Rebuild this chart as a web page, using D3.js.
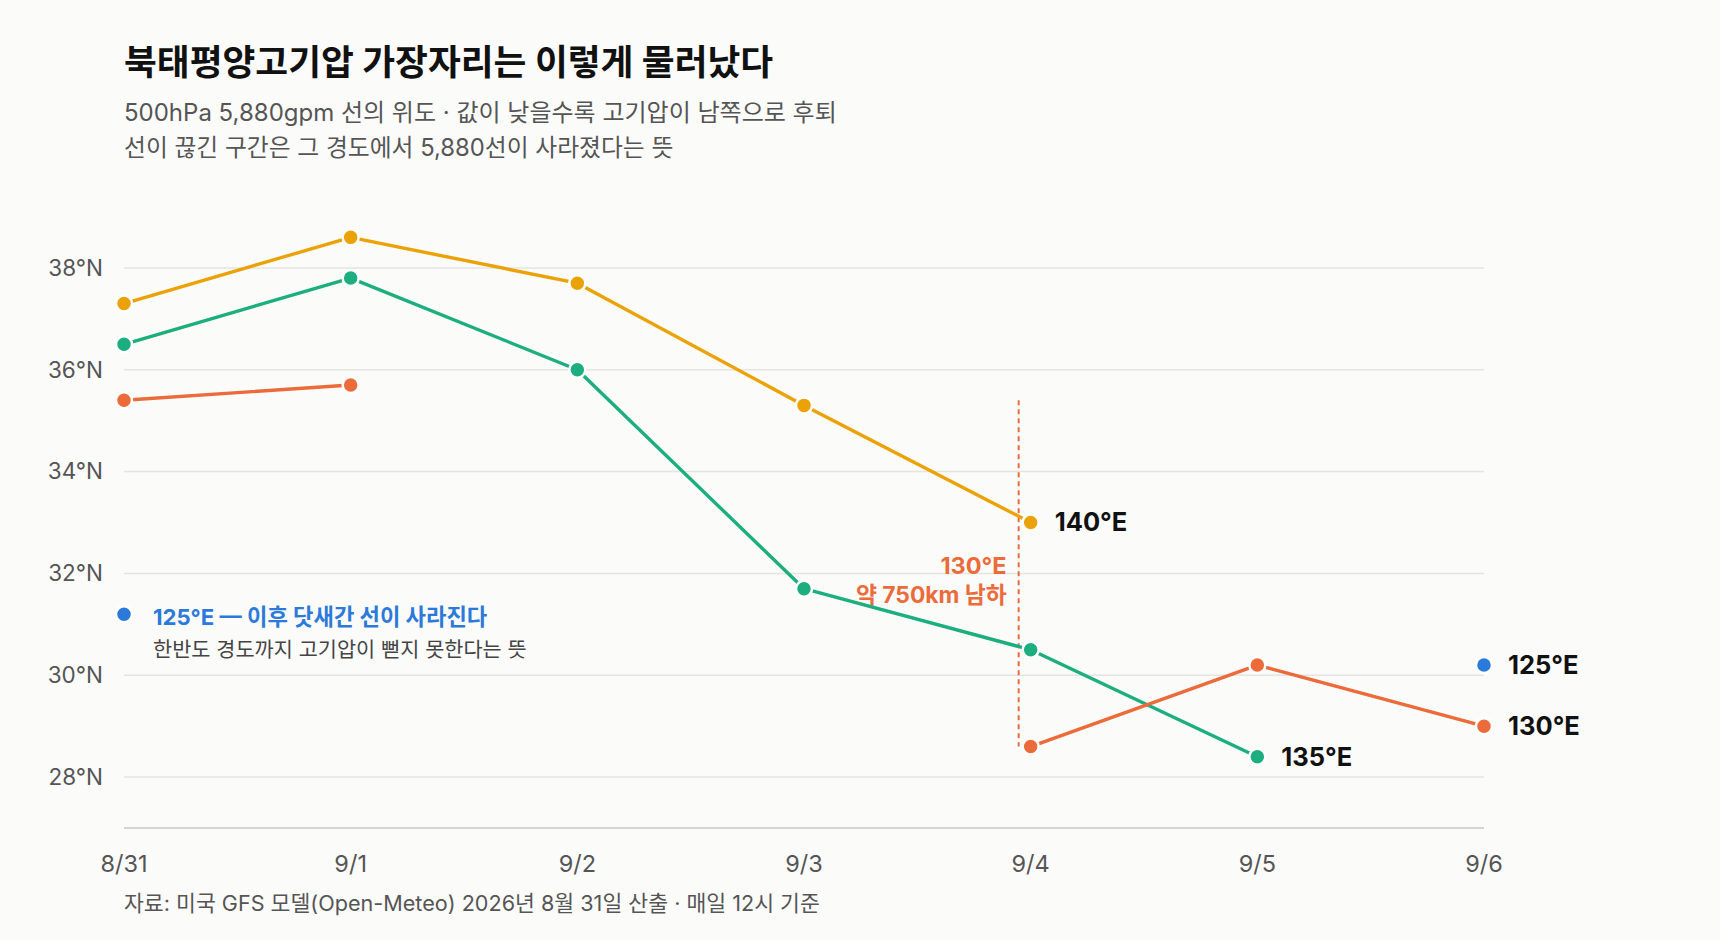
<!DOCTYPE html>
<html lang="ko">
<head>
<meta charset="utf-8">
<script src="https://cdn.jsdelivr.net/npm/d3@7"></script>
<style>
    body { margin: 0; background: #fbfbfa; }
    svg text { font-family: Inter, "Noto Sans CJK KR", sans-serif; }
</style>
</head>
<body>
<svg id="chart" width="1720" height="940"></svg>
<script>
// Latitude of the 500hPa 5,880gpm line, per longitude, daily at 12h.
const dates = ["8/31", "9/1", "9/2", "9/3", "9/4", "9/5", "9/6"];
const lat140 = [37.3, 38.6, 37.7, 35.3, 33.0, null, null];
const lat135 = [36.5, 37.8, 36.0, 31.7, 30.5, 28.4, null];
const lat130 = [35.4, 35.7, null, null, 28.6, 30.2, 29.0];
const lat125 = [31.2, null, null, null, null, null, 30.2];
const seriesNames = ["140°E", "135°E", "130°E", "125°E"];
const seriesColors = ["#eaa206", "#1dae7f", "#eb6b3b", "#2b7ad9"];
const yTicks = [28, 30, 32, 34, 36, 38];

class RidgeChart {

    constructor(selector) {
        this.svg = d3.select(selector);
        this.left = 124;
        this.right = 1484;
        this.top = 217;
        this.bottom = 828;
    }

    render() {
        let svg = this.svg;

        let x = d3.scalePoint().domain(dates).range([this.left, this.right]);
        let y = d3.scaleLinear().domain([27, 39]).range([this.bottom, this.top]);

        // Title and subtitle
        svg.append("text").attr("x", 124).attr("y", 75)
            .attr("font-size", 35.7).attr("font-weight", 700).attr("fill", "#111")
            .text("북태평양고기압 가장자리는 이렇게 물러났다");
        svg.append("text").attr("x", 124).attr("y", 121)
            .attr("font-size", 24).attr("fill", "#555")
            .text("500hPa 5,880gpm 선의 위도 · 값이 낮을수록 고기압이 남쪽으로 후퇴");
        svg.append("text").attr("x", 124).attr("y", 156)
            .attr("font-size", 23.8).attr("fill", "#555")
            .text("선이 끊긴 구간은 그 경도에서 5,880선이 사라졌다는 뜻");

        // Horizontal gridlines + y labels
        let grid = svg.append("g");
        grid.selectAll("line").data(yTicks).enter().append("line")
            .attr("x1", this.left).attr("x2", this.right)
            .attr("y1", d => y(d)).attr("y2", d => y(d))
            .attr("stroke", "#e4e4e2").attr("stroke-width", 1.5);
        grid.selectAll("text").data(yTicks).enter().append("text")
            .attr("x", 103).attr("y", d => y(d)).attr("dy", "0.35em")
            .attr("text-anchor", "end").attr("font-size", 22.5).attr("fill", "#555")
            .text(d => d + "°N");

        // Bottom axis line + date labels
        svg.append("line")
            .attr("x1", this.left).attr("x2", this.right)
            .attr("y1", y(27)).attr("y2", y(27))
            .attr("stroke", "#c8c8c2").attr("stroke-width", 1.5);
        svg.append("g").selectAll("text").data(dates).enter().append("text")
            .attr("x", d => x(d)).attr("y", 872)
            .attr("text-anchor", "middle").attr("font-size", 23.5).attr("fill", "#555")
            .text(d => d);

        // Dashed drop marker for 130°E (8/31 -> 9/4)
        let dropX = x("9/4") - 12;
        svg.append("line")
            .attr("x1", dropX).attr("x2", dropX)
            .attr("y1", y(lat130[0])).attr("y2", y(lat130[4]))
            .attr("stroke", seriesColors[2]).attr("stroke-width", 2)
            .attr("stroke-dasharray", "5,4");
        let dropMid = (y(lat130[0]) + y(lat130[4])) / 2;
        svg.append("text").attr("x", dropX - 12).attr("y", dropMid - 8).attr("dy", "0.35em")
            .attr("text-anchor", "end").attr("font-size", 23.5).attr("font-weight", 700)
            .attr("fill", seriesColors[2]).text("130°E");
        svg.append("text").attr("x", dropX - 12).attr("y", dropMid + 22).attr("dy", "0.35em")
            .attr("text-anchor", "end").attr("font-size", 22.8).attr("font-weight", 700)
            .attr("fill", seriesColors[2]).text("약 750km 남하");

        // Series lines (broken where the 5,880 line vanished)
        let series = [lat140, lat135, lat130, lat125].map((vals, i) => ({
            name: seriesNames[i],
            color: seriesColors[i],
            points: vals.map((v, j) => ({date: dates[j], lat: v}))
        }));

        let line = d3.line()
            .defined(d => d.lat !== null)
            .x(d => x(d.date))
            .y(d => y(d.lat));

        svg.append("g").selectAll("path").data(series).enter().append("path")
            .attr("d", d => line(d.points))
            .attr("fill", "none")
            .attr("stroke", d => d.color)
            .attr("stroke-width", 3.4)
            .attr("stroke-linejoin", "round");

        let dots = svg.append("g");
        series.forEach(s => {
            dots.selectAll(null).data(s.points.filter(p => p.lat !== null)).enter().append("circle")
                .attr("cx", d => x(d.date)).attr("cy", d => y(d.lat))
                .attr("r", 8)
                .attr("fill", s.color)
                .attr("stroke", "#fff").attr("stroke-width", 2.5);
        });

        // Labels at the last point of each series
        series.forEach(s => {
            let last = s.points.filter(p => p.lat !== null).pop();
            svg.append("text")
                .attr("x", x(last.date) + 24).attr("y", y(last.lat)).attr("dy", "0.35em")
                .attr("font-size", 25.5).attr("font-weight", 700).attr("fill", "#111")
                .text(s.name);
        });

        // 125°E note next to its 8/31 point
        let bx = x(dates[0]) + 29, by = y(lat125[0]);
        svg.append("text").attr("x", bx).attr("y", by + 3).attr("dy", "0.35em")
            .attr("font-size", 22.2).attr("font-weight", 700).attr("fill", seriesColors[3])
            .text("125°E — 이후 닷새간 선이 사라진다");
        svg.append("text").attr("x", bx).attr("y", by + 36).attr("dy", "0.35em")
            .attr("font-size", 20.8).attr("fill", "#444")
            .text("한반도 경도까지 고기압이 뻗지 못한다는 뜻");

        // Source line
        svg.append("text").attr("x", 124).attr("y", 911)
            .attr("font-size", 21.6).attr("fill", "#555")
            .text("자료: 미국 GFS 모델(Open-Meteo) 2026년 8월 31일 산출 · 매일 12시 기준");
    }
}

let chart = new RidgeChart("#chart");
chart.render();
</script>
</body>
</html>
